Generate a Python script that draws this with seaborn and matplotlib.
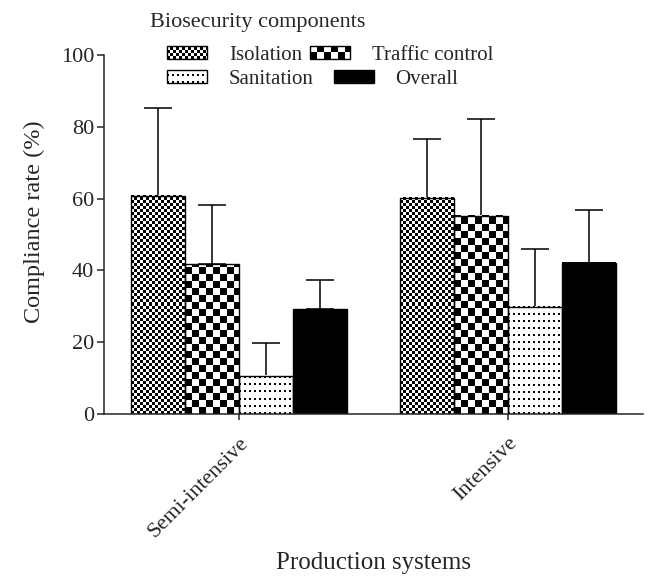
import numpy as np
import pandas as pd
import matplotlib
matplotlib.use("Agg")
import matplotlib.pyplot as plt
import seaborn as sns
from matplotlib.patches import Patch, Rectangle
from matplotlib.legend_handler import HandlerBase
from matplotlib.image import BboxImage
from matplotlib.transforms import Bbox, TransformedBbox
from matplotlib.colors import Normalize

# values (mean and SD, %)
systems = ["Semi-intensive", "Intensive"]
components = ["Isolation", "Traffic control", "Sanitation", "Overall"]
semi_mean = [60.8, 41.7, 10.7, 29.2]
semi_sd = [24.4, 16.5, 9.1, 8.0]
int_mean = [60.3, 55.2, 29.9, 42.1]
int_sd = [16.3, 27.1, 16.1, 14.7]

df = pd.DataFrame({
    "system": np.repeat(systems, len(components)),
    "component": components * 2,
    "rate": semi_mean + int_mean,
    "sd": semi_sd + int_sd,
})


def pattern(kind, w, h):
    """fill pattern of a bar, one array cell per pixel"""
    yy, xx = np.mgrid[0:h, 0:w]
    if kind == "Isolation":
        return ((yy // 3 + xx // 3) % 2).astype(float)
    if kind == "Traffic control":
        return ((yy // 7 + xx // 7) % 2).astype(float)
    if kind == "Sanitation":
        a = np.ones((h, w))
        a[((yy % 7) < 2) & ((xx % 5) < 2)] = 0
        return a
    return np.zeros((h, w))


class PatternHandler(HandlerBase):
    def __init__(self, kind):
        super().__init__()
        self.kind = kind

    def create_artists(self, legend, orig_handle, xdescent, ydescent,
                       width, height, fontsize, trans):
        dpi = legend.figure.dpi
        w = max(int(round(width * dpi / 72)), 1)
        h = max(int(round(height * dpi / 72)), 1)
        box = TransformedBbox(Bbox.from_bounds(-xdescent, -ydescent, width, height), trans)
        img = BboxImage(box, cmap="gray", norm=Normalize(0, 1), interpolation="nearest", origin="lower")
        img.set_data(pattern(self.kind, w, h))
        rect = Rectangle((-xdescent, -ydescent), width, height, facecolor="none",
                         edgecolor="black", lw=1, transform=trans)
        return [img, rect]


sns.set_style("ticks")
plt.rcParams["font.family"] = ["Liberation Serif", "DejaVu Serif"]

fig, ax = plt.subplots(figsize=(6.51, 5.76), dpi=100)
fig.subplots_adjust(left=104 / 651, right=643 / 651, top=1 - 55 / 576, bottom=1 - 414 / 576)

sns.barplot(data=df, x="system", y="rate", hue="component", order=systems,
            hue_order=components, palette={c: "white" for c in components},
            errorbar=None, width=0.8, saturation=1, edgecolor="black",
            linewidth=1, legend=False, ax=ax)

ax.set_xlim(-0.5, 1.5)
ax.set_ylim(0, 100)

bar_conts = list(ax.containers)
for i, cont in enumerate(bar_conts):
    comp = components[i]
    for j, bar in enumerate(cont):
        sd = df.loc[(df.system == systems[j]) & (df.component == comp), "sd"].iloc[0]
        xc = bar.get_x() + bar.get_width() / 2
        ax.errorbar(xc, bar.get_height(), yerr=[[0], [sd]], color="black",
                    capsize=10, elinewidth=1.1, capthick=1.1, zorder=1)
        bb = bar.get_window_extent()
        w, h = int(round(bb.width)), int(round(bb.height))
        ax.imshow(pattern(comp, w, h), cmap="gray", vmin=0, vmax=1,
                  extent=[bar.get_x(), bar.get_x() + bar.get_width(), 0, bar.get_height()],
                  origin="lower", interpolation="nearest", aspect="auto", zorder=1.5)
        bar.set_facecolor("none")
        bar.set_zorder(2)

ax.set_xlim(-0.5, 1.5)
ax.set_ylim(0, 100)
ax.set_yticks([0, 20, 40, 60, 80, 100])
sns.despine(ax=ax)
for s in ["left", "bottom"]:
    ax.spines[s].set_linewidth(1.1)
ax.tick_params(axis="y", length=5, width=1.1, labelsize=16, pad=2)
ax.tick_params(axis="x", length=4, width=1.1, labelsize=16, pad=10)
plt.setp(ax.get_xticklabels(), rotation=45, ha="right", va="top", rotation_mode="anchor")

ax.set_ylabel("Compliance rate (%)", fontsize=17.5)
ax.yaxis.set_label_coords(-0.11, 0.535)
ax.set_xlabel("Production systems", fontsize=18)
ax.xaxis.set_label_coords(0.5, -0.385)

# legend: two rows, each its own legend (columns are not aligned in the original)
fig.text(150 / 651, 1 - 23 / 576, "Biosecurity components", fontsize=16, va="center", ha="left")
rows = [(["Isolation", "Traffic control"], 55, 0.38), (["Sanitation", "Overall"], 79, 0.96)]
for labels, ypix, colsp in rows:
    handles = [Patch(facecolor="white", edgecolor="black", label=c) for c in labels]
    hmap = {h: PatternHandler(c) for h, c in zip(handles, labels)}
    fig.legend(handles=handles, handler_map=hmap, ncol=2, frameon=False, loc="center left",
               bbox_to_anchor=(167 / 651, 1 - ypix / 576), fontsize=15, handlelength=1.92,
               handleheight=0.58, handletextpad=1.05, columnspacing=colsp,
               borderpad=0, borderaxespad=0)

fig.savefig("out.png", dpi=100)
